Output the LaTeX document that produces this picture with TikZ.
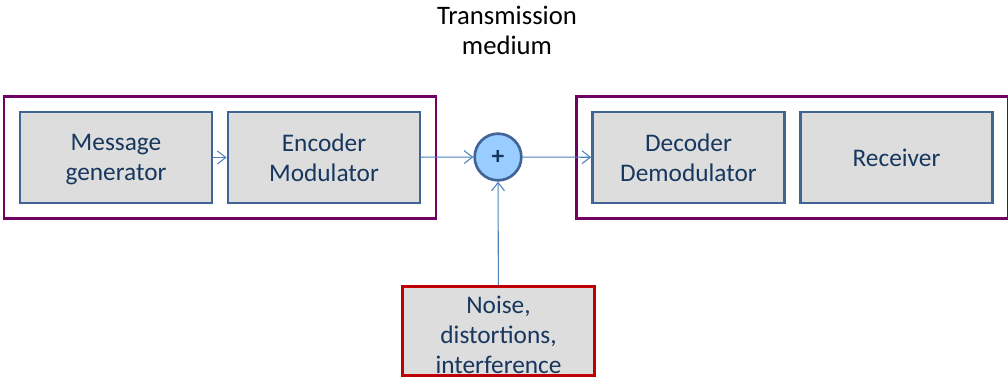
\documentclass[tikz,border=0pt]{standalone}
\usepackage{fontspec}
\setmainfont{Carlito}
\usetikzlibrary{arrows.meta,positioning,fit}
\definecolor{plum}{RGB}{112,0,100}
\definecolor{slate}{RGB}{65,100,150}
\definecolor{panel}{RGB}{221,221,221}
\definecolor{navy}{RGB}{23,55,94}
\definecolor{wire}{RGB}{79,129,189}
\definecolor{sky}{RGB}{153,204,255}
\definecolor{alarm}{RGB}{192,0,0}
\tikzset{
  >={Straight Barb[length=2.2mm,width=3.4mm]},
  block/.style={draw=#1,fill=panel,line width=2pt,minimum width=144pt,
    minimum height=68pt,align=center,text=navy,text depth=-2.25pt,
    font=\fontsize{19}{22.5}\selectfont},
  block/.default=slate,
  outer/.style={draw=plum,line width=2.2pt,inner sep=11pt},
  link/.style={->,draw=wire,line width=0.8pt},
  summer/.style={circle,draw=slate,fill=sky,line width=2pt,minimum size=35pt,
    inner sep=0pt,font=\fontsize{19}{20}\selectfont\bfseries,text=navy},
}
\begin{document}
\begin{tikzpicture}[x=0.75pt,y=-0.75pt]
  \useasboundingbox (0,0) rectangle (1008,378);
  % transmitter side
  \node[block] (msg) at (116,157.5) {Message\\generator};
  \node[block,right=10pt of msg] (enc) {Encoder\\Modulator};
  \node[outer,fit=(msg)(enc)] (tx) {};
  % channel
  \node[summer] (sum) at (498,157) {+};
  \node[align=center,font=\fontsize{20}{22.5}\selectfont] (medium) at (507,30) {Transmission\\medium};
  \node[block=alarm,minimum height=67pt,inner ysep=0pt,text height=63pt,text depth=0pt] (noise) at (498.5,331) {Noise,\\distortions,\\interference};
  % receiver side
  \node[block] (dec) at (688.5,157.5) {Decoder\\Demodulator};
  \node[block,right=10pt of dec,text height=15.75pt,text depth=2.25pt] (rcv) {Receiver};
  \node[outer,fit=(dec)(rcv)] (rx) {};
  % connectors
  \draw[link] (msg) -- (enc);
  \draw[link] (enc) -- (sum);
  \draw[link] (sum) -- (dec);
  \draw[link] (noise) -- (sum);
\end{tikzpicture}
\end{document}
